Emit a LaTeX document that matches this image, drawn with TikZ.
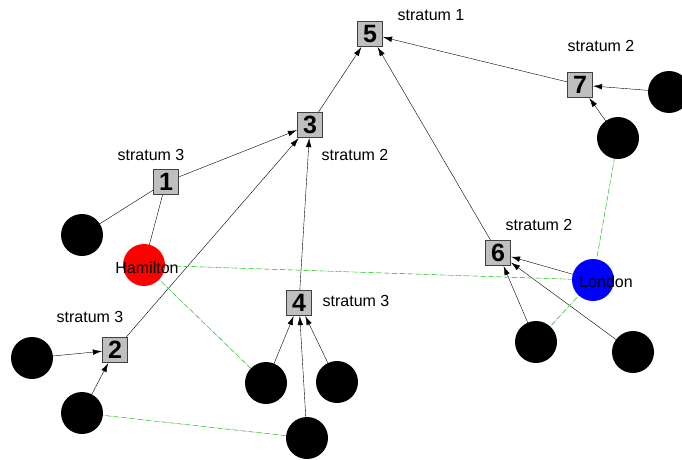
\documentclass[tikz,border=0pt]{standalone}
\usepackage{fontspec}
\setmainfont{Liberation Sans}
\usetikzlibrary{arrows.meta,backgrounds}

\begin{document}
\begin{tikzpicture}
			[x=1pt, y=-1pt, font=\fontsize{16}{19}\selectfont, line width=1.2pt,
			box/.style ={rectangle, draw=black!75, fill=black!25, minimum size=25pt, inner sep=0pt, font=\fontsize{25}{25}\selectfont\bfseries},
			host/.style ={circle, fill=black, minimum size=42pt, inner sep=0pt},
			tag/.style ={inner sep=0pt},
			link/.style ={-{Latex[length=9pt,width=5.5pt]}},
			peer/.style ={draw=black!20, postaction={draw=green!80!black, dash pattern=on 5pt off 3pt}}];
			\useasboundingbox (0,0) rectangle (682,460);
			% strata boxes
			\node [box] (s5) at (370,34) {5};
			\node [box] (s3) at (310,125) {3};
			\node [box] (s1) at (166,182) {1};
			\node [box] (s7) at (580,85) {7};
			\node [box] (s6) at (498,253) {6};
			\node [box] (s4) at (299,303) {4};
			\node [box] (s2) at (115,350) {2};
			% hosts
			\node [host] (h1) at (82,235) {};
			\node [host, fill=red] (hamilton) at (144,265) {};
			\node [host, fill=blue] (london) at (593,280) {};
			\node [host] (h7a) at (669,92) {};
			\node [host] (h7b) at (618,138) {};
			\node [host] (h6a) at (536,342) {};
			\node [host] (h6b) at (633,352) {};
			\node [host] (h2a) at (32,358) {};
			\node [host] (h2b) at (82,413) {};
			\node [host] (h4a) at (266,383) {};
			\node [host] (h4b) at (337,382) {};
			\node [host] (h4c) at (307,438) {};
			\node [tag] (hamiltonname) at (147,268) {Hamilton};
			\node [tag] (londonname) at (606,282) {London};
			% stratum labels
			\node [tag] (l5) at (431,15) {stratum 1};
			\node [tag] (l7) at (601,46) {stratum 2};
			\node [tag] (l3) at (355,155) {stratum 2};
			\node [tag] (l6) at (539,225) {stratum 2};
			\node [tag] (l1) at (151,155) {stratum 3};
			\node [tag] (l4) at (356,301) {stratum 3};
			\node [tag] (l2) at (90,317) {stratum 3};
			\begin{scope}[on background layer]
				\draw [link] (s3) -- (s5);
				\draw [link] (s6) -- (s5);
				\draw [link] (s7) -- (s5);
				\draw [link] (s1) -- (s3);
				\draw [link] (s2) -- (s3);
				\draw [link] (s4) -- (s3);
				\draw (h1.center) -- (s1);
				\draw (hamilton.center) -- (s1);
				\draw [link] (h7a.center) -- (s7);
				\draw [link] (h7b.center) -- (s7);
				\draw [link] (london.center) -- (s6);
				\draw [link] (h6a.center) -- (s6);
				\draw [link] (h6b.center) -- (s6);
				\draw [link] (h2a.center) -- (s2);
				\draw [link] (h2b.center) -- (s2);
				\draw [link] (h4a.center) -- (s4);
				\draw [link] (h4b.center) -- (s4);
				\draw [link] (h4c.center) -- (s4);
				% peerings
				\path [peer] (hamilton.center) -- (london.center);
				\path [peer] (hamilton.center) -- (h4a.center);
				\path [peer] (london.center) -- (h7b.center);
				\path [peer] (london.center) -- (h6a.center);
				\path [peer] (h2b.center) -- (h4c.center);
			\end{scope}
		\end{tikzpicture}
\end{document}
